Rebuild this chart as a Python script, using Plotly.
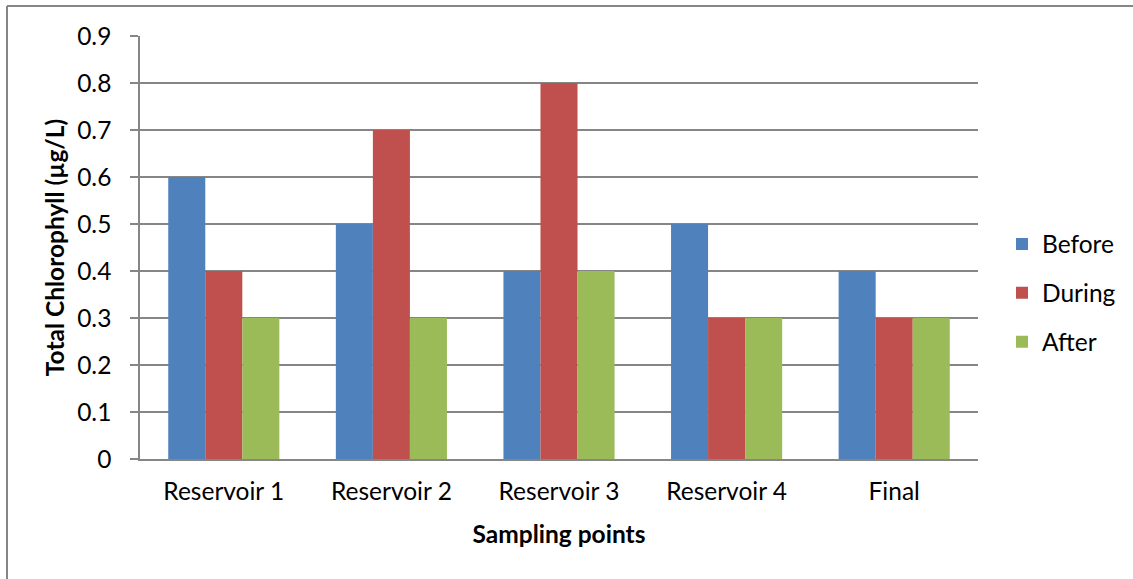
import plotly.graph_objects as go

# Sampling sites and chlorophyll readings per period
sites = ["Reservoir 1", "Reservoir 2", "Reservoir 3", "Reservoir 4", "Final"]
before = [0.6, 0.5, 0.4, 0.5, 0.4]
during = [0.4, 0.7, 0.8, 0.3, 0.3]
after = [0.3, 0.3, 0.4, 0.3, 0.3]

y_ticks = [0, 0.1, 0.2, 0.3, 0.4, 0.5, 0.6, 0.7, 0.8, 0.9]
y_tick_text = ["0", "0.1", "0.2", "0.3", "0.4", "0.5", "0.6", "0.7", "0.8", "0.9"]

series = [
    ("Before", before, "#4F81BD"),
    ("During", during, "#C0504D"),
    ("After", after, "#9BBB59"),
]

FONT = "Lato"
SIZE = 24.5

fig = go.Figure()
for name, vals, color in series:
    fig.add_trace(go.Bar(
        name=name, x=sites, y=vals, legendgroup=name,
        marker=dict(color=color, line=dict(width=0)),
    ))

W, H = 1133, 579
L, R, T, B = 140, 155, 36, 120
pw, ph = W - L - R, H - T - B

fig.update_layout(
    width=W, height=H,
    margin=dict(l=L, r=R, t=T, b=B, pad=0, autoexpand=False),
    paper_bgcolor="white", plot_bgcolor="white",
    barmode="group", bargap=0.337, bargroupgap=0,
    font=dict(family=FONT, size=SIZE, color="black"),
    showlegend=True,
    legend=dict(
        x=(1002 - L) / pw, xanchor="left",
        y=(H - B - 293) / ph, yanchor="middle",
        font=dict(family=FONT, size=SIZE, color="black"),
        itemwidth=30, traceorder="grouped", tracegroupgap=14,
        bgcolor="rgba(0,0,0,0)",
    ),
    xaxis=dict(
        showline=True, linecolor="#868686", linewidth=1.5,
        ticks="", showgrid=False,
        tickfont=dict(family=FONT, size=SIZE),
        ticklabelstandoff=10,
        title=dict(text="<b>Sampling points</b>", font=dict(family=FONT, size=SIZE), standoff=22),
    ),
    yaxis=dict(
        range=[0, 0.9], tickvals=y_ticks, ticktext=y_tick_text,
        showline=True, linecolor="#868686", linewidth=1.5,
        ticks="outside", ticklen=8, tickcolor="#868686", tickwidth=1.5,
        ticklabelstandoff=14,
        showgrid=True, gridcolor="#868686", gridwidth=1.5,
        zeroline=False,
        tickfont=dict(family=FONT, size=SIZE),
        title=dict(text="<b>Total Chlorophyll (µg/L)</b>", font=dict(family=FONT, size=SIZE), standoff=6),
    ),
)

# Outer chart frame (left and top edges)
x0 = (7 - L) / pw
y0 = (H - B - 6) / ph
fig.add_shape(type="line", xref="paper", yref="paper", x0=x0, x1=(W + 5 - L) / pw, y0=y0, y1=y0,
              line=dict(color="#868686", width=2))
fig.add_shape(type="line", xref="paper", yref="paper", x0=x0, x1=x0, y0=y0, y1=(H - B - H - 5) / ph,
              line=dict(color="#868686", width=2))

fig.write_html("out.html")
